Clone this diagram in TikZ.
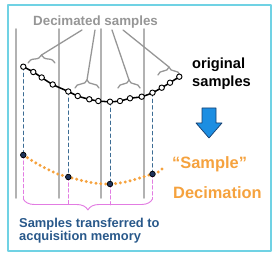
\documentclass[tikz,border=0pt]{standalone}
\usepackage{fontspec}
\setmainfont{Liberation Sans}
\usetikzlibrary{decorations.pathreplacing}
\definecolor{framecyan}{RGB}{112,210,228}
\definecolor{gridgray}{RGB}{178,178,178}
\definecolor{titlegray}{RGB}{150,150,150}
\definecolor{keptblue}{RGB}{60,108,148}
\definecolor{dotnavy}{RGB}{30,52,92}
\definecolor{decorange}{RGB}{245,162,62}
\definecolor{memblue}{RGB}{40,88,138}
\definecolor{brpink}{RGB}{226,124,226}
\definecolor{arrowblue}{RGB}{28,142,226}
\definecolor{arrowedge}{RGB}{22,62,110}
\begin{document}
\begin{tikzpicture}[x=0.03cm,y=-0.03cm,line join=round,line cap=round,font=\bfseries]
\tikzset{gridline/.style={draw=gridgray,line width=1.4pt},
  bracket/.style={draw=titlegray,line width=1.1pt,decorate,decoration={brace,amplitude=0.24cm}},
  leader/.style={draw=titlegray,line width=1.1pt},
  keptline/.style={draw=keptblue,line width=0.7pt,dash pattern=on 3pt off 2.5pt},
  memline/.style={draw=brpink,line width=0.8pt,dash pattern=on 3pt off 2pt},
  every node/.style={inner sep=0pt,anchor=base west}}
\useasboundingbox (0,0) rectangle (276,254);
\draw[framecyan,line width=0.9pt] (8,5) rectangle (271,251);
\foreach \x in {16,59,101,144}
\draw[gridline] (\x,29)--(\x,198);
\node[text=titlegray,font=\bfseries\fontsize{11.4}{13}\selectfont] (dec) at (33,26) {Decimated samples};
\foreach \i/\x/\y in {0/23.3/66.7,1/33.3/72,2/41.7/77.5,3/52.7/84.5,4/68.3/91.5,5/77.7/96,6/89.3/99.3,7/98.3/101,8/110/101.7,9/120/101,10/130/98.3,11/141.7/96.7,12/152.5/92.7,13/161.7/87.7,14/170/82.7,15/179.3/76.7}
\coordinate (o\i) at (\x,\y);
\foreach \i/\x/\y in {0/23.3/155,4/68.3/177,8/110/184,12/152.5/174}
\coordinate (d\i) at (\x,\y);
\foreach \n/\a/\b/\y/\tx in {1/28/55/63/82,2/75/99/88/95,3/118/140/88/112,4/158/180/75/123}{
\draw[bracket] (\a,\y)--(\b,\y);
\coordinate (b\n) at ({(\a+\b)/2},{\y-8});
\coordinate (t\n) at (\tx,30);
\draw[leader] (b\n)--(t\n);
}
\draw[decorange,line width=2.8pt,dash pattern=on 0pt off 4.2pt] plot[smooth,tension=0.7] coordinates {(d0) (45,168) (d4) (d8) (d12) (162,169)};
\foreach \i in {0,4,8,12}
\draw[keptline] (o\i)--(d\i);
\draw[black,line width=1.3pt] plot[smooth,tension=0.5] coordinates {(o0) (o1) (o2) (o3) (o4) (o5) (o6) (o7) (o8) (o9) (o10) (o11) (o12) (o13) (o14) (o15)};
\foreach \i in {0,...,15}
\filldraw[fill=white,draw=black,line width=0.8pt] (o\i) circle (2.3pt);
\coordinate (m0) at (23.3,199);
\coordinate (m4) at (68.3,205);
\coordinate (m8) at (110,205);
\coordinate (m12) at (152.5,199);
\foreach \i in {0,4,8,12}
\draw[memline] (d\i)--(m\i);
\draw[draw=brpink,line width=0.8pt,decorate,decoration={brace,mirror,amplitude=0.33cm}] (m0)--(m12);
\foreach \i in {0,4,8,12}
\filldraw[fill=dotnavy,draw=black,line width=0.6pt] (d\i) circle (2.4pt);
\node[font=\bfseries\fontsize{12.5}{15}\selectfont] (orig1) at (192,69) {original};
\node[font=\bfseries\fontsize{12.5}{15}\selectfont] (orig2) at (192,87) {samples};
\filldraw[fill=arrowblue,draw=arrowedge,line width=0.6pt] (202,108)--(216,108)--(216,123)--(222,123)--(209,138)--(196,123)--(202,123)--cycle;
\node[text=decorange,font=\bfseries\fontsize{14}{17}\selectfont] (samp) at (172,168) {“Sample”};
\node[text=decorange,font=\bfseries\fontsize{14}{17}\selectfont] (deci) at (173,198) {Decimation};
\node[text=memblue,font=\bfseries\fontsize{11}{13}\selectfont] (mem1) at (19,227) {Samples transferred to};
\node[text=memblue,font=\bfseries\fontsize{11}{13}\selectfont] (mem2) at (19,240) {acquisition memory};
\end{tikzpicture}
\end{document}
